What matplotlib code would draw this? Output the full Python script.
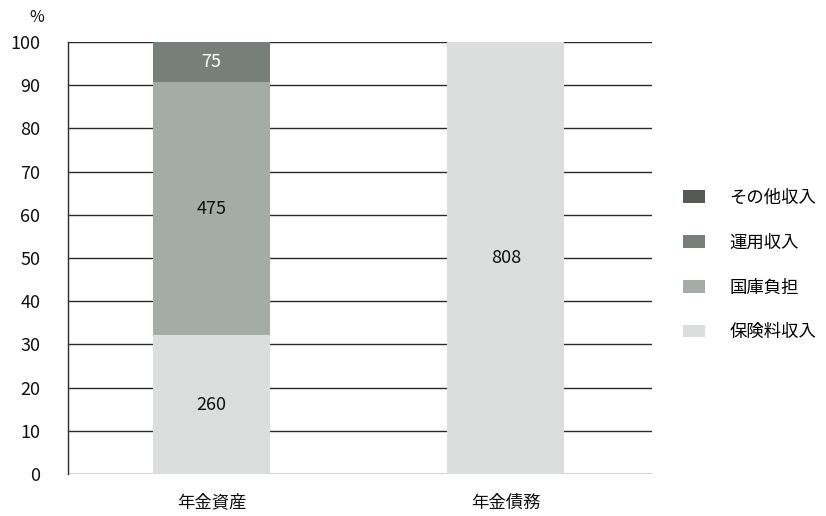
import matplotlib
matplotlib.use("Agg")
import matplotlib.pyplot as plt
from matplotlib.patches import Patch

plt.rcParams['font.family'] = ['Noto Sans CJK JP', 'DejaVu Sans']

categories = ['年金資産', '年金債務']
series_names = ['保険料収入', '国庫負担', '運用収入', 'その他収入']
# raw amounts per category (bottom -> top)
hoken = [260, 808]
kokko = [475, 0]
unyo = [75, 0]
sonota = [0, 0]
yticks = list(range(0, 101, 10))

colors = {'保険料収入': '#dcdedd', '国庫負担': '#a5aba7', '運用収入': '#787e7a', 'その他収入': '#555a57'}
series = [hoken, kokko, unyo, sonota]

fig = plt.figure(figsize=(8.26, 5.16), dpi=100)
ax = fig.add_axes([68/826, 1-474/516, 584/826, 432/516])

totals = [sum(s[i] for s in series) for i in range(len(categories))]
x = list(range(len(categories)))
bottoms = [0.0] * len(categories)
for name, vals in zip(series_names, series):
    pct = [v / t * 100 for v, t in zip(vals, totals)]
    ax.bar(x, pct, bottom=bottoms, width=0.397, color=colors[name], zorder=3)
    for i, (p, v) in enumerate(zip(pct, vals)):
        if v > 0:
            tc = 'white' if name in ('運用収入', 'その他収入') else '#111111'
            ax.text(x[i], bottoms[i] + p / 2, str(v), ha='center', va='center',
                    fontsize=13, color=tc, zorder=4)
    bottoms = [b + p for b, p in zip(bottoms, pct)]

ax.set_xlim(-0.487, 1.496)
ax.set_ylim(0, 100)
ax.set_yticks(yticks)
ax.set_yticklabels([str(t) for t in yticks], fontsize=13, color='#111111')
for t in yticks:
    ax.axhline(t, color='#2a2a2a', linewidth=1.0, zorder=1)
ax.tick_params(axis='y', length=0, pad=20)
ax.set_xticks(x)
ax.set_xticklabels(categories, fontsize=12.5, color='#111111')
ax.tick_params(axis='x', length=0, pad=14)
for s in ['top', 'right', 'bottom']:
    ax.spines[s].set_visible(False)
ax.spines['left'].set_color('#2a2a2a')
ax.spines['left'].set_linewidth(1.0)

fig.text(37/826, 1-17/516, '%', fontsize=11.5, ha='center', va='center', color='#111111')

handles = [Patch(facecolor=colors[n], edgecolor='none') for n in series_names[::-1]]
fig.legend(handles, series_names[::-1], loc='center left', bbox_to_anchor=(683/826, 1-265/516),
           frameon=False, fontsize=12.5, handlelength=1.27, handleheight=0.75,
           labelspacing=1.54, handletextpad=1.4, borderpad=0, borderaxespad=0)

fig.savefig('out.png', dpi=100)
